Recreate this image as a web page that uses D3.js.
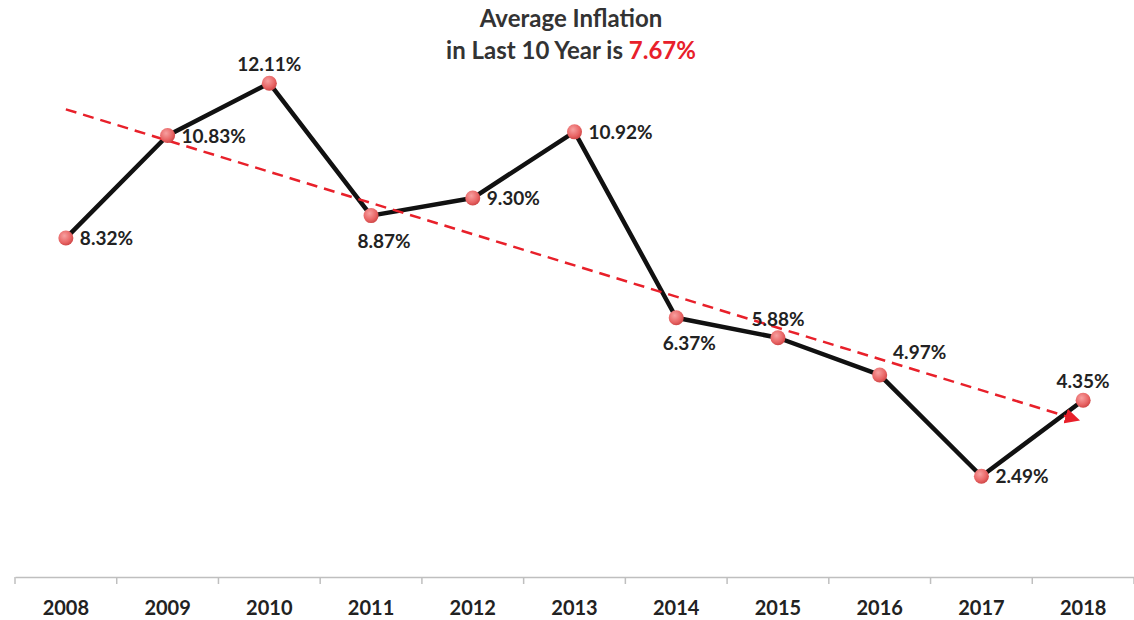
<!DOCTYPE html>
<html><head><meta charset="utf-8">
<script src="https://cdn.jsdelivr.net/npm/d3@7"></script>
<style>body{margin:0;background:#fff}svg{display:block}</style>
</head><body>
<svg id="c" width="1134" height="620"></svg>
<script>
const years = ["2008","2009","2010","2011","2012","2013","2014","2015","2016","2017","2018"];
const inflation = [8.32,10.83,12.11,8.87,9.30,10.92,6.37,5.88,4.97,2.49,4.35];
const labelPlacement = ["right","right","above","below","right","right","below","above","aboveRight","right","above"];
const titleLine1 = "Average Inflation";
const titleLine2 = "in Last 10 Year is ";
const avgText = "7.67%";

const svg = d3.select("#c");
const font = "Lato, 'Open Sans', sans-serif";
const x = d3.scaleBand().domain(years).range([15,1134]).paddingInner(0).paddingOuter(0);
const y = d3.scaleLinear().domain([0,14]).range([578,6]);
const cx = d => x(d) + x.bandwidth()/2;

// defs
const defs = svg.append("defs");
const g = defs.append("radialGradient").attr("id","dot").attr("cx","40%").attr("cy","35%").attr("r","65%");
g.append("stop").attr("offset","0%").attr("stop-color","#f7a0a0");
g.append("stop").attr("offset","70%").attr("stop-color","#e86464");
g.append("stop").attr("offset","100%").attr("stop-color","#d04848");
defs.append("marker").attr("id","arr").attr("viewBox","0 0 10 10").attr("refX",8).attr("refY",5)
  .attr("markerWidth",6).attr("markerHeight",6).attr("orient","auto").attr("markerUnits","strokeWidth")
  .append("path").attr("d","M0,0 L10,5 L0,10 Z").attr("fill","#e8202a");

// axis
const axis = d3.axisBottom(x).tickSize(0).tickPadding(24);
const ax = svg.append("g").attr("transform","translate(0,577)").call(axis);
ax.select(".domain").attr("stroke","#bfbfbf").attr("stroke-width",1.5);
ax.selectAll("text").attr("font-family",font).attr("font-weight","bold").attr("font-size",20).attr("fill","#222");
const bounds = years.map(d=>x(d)).concat([x(years[years.length-1])+x.bandwidth()]);
ax.selectAll(".bt").data(bounds).enter().append("line").attr("class","bt")
  .attr("x1",d=>d).attr("x2",d=>d).attr("y1",0).attr("y2",7).attr("stroke","#bfbfbf").attr("stroke-width",1.5);

// main line
const pts = years.map((d,i)=>({year:d,v:inflation[i],i}));
svg.append("path").datum(pts)
  .attr("d", d3.line().x(d=>cx(d.year)).y(d=>y(d.v)))
  .attr("fill","none").attr("stroke","#111").attr("stroke-width",4.5).attr("stroke-linejoin","round");

// linear trend (least squares)
const n = inflation.length;
const mx = d3.mean(d3.range(n)), my = d3.mean(inflation);
const slope = d3.sum(d3.range(n), i=>(i-mx)*(inflation[i]-my)) / d3.sum(d3.range(n), i=>(i-mx)*(i-mx));
const icpt = my - slope*mx;
svg.append("line")
  .attr("x1",cx(years[0])).attr("y1",y(icpt))
  .attr("x2",cx(years[n-1])-6).attr("y2",y(icpt+slope*(n-1)))
  .attr("stroke","#e8202a").attr("stroke-width",2.5).attr("stroke-dasharray","11,7")
  .attr("marker-end","url(#arr)");

// points
svg.selectAll("circle.p").data(pts).enter().append("circle").attr("class","p")
  .attr("cx",d=>cx(d.year)).attr("cy",d=>y(d.v)).attr("r",7.5).attr("fill","url(#dot)");

// labels
const fmt = v => v.toFixed(2)+"%";
svg.selectAll("text.l").data(pts).enter().append("text").attr("class","l")
  .attr("font-family",font).attr("font-weight","bold").attr("font-size",19).attr("fill","#222")
  .attr("x",d=>{const p=labelPlacement[d.i];const X=cx(d.year);
    if(p==="right")return X+14; if(p==="aboveRight")return X+40; if(p==="below")return X+13; return X;})
  .attr("y",d=>{const p=labelPlacement[d.i];const Y=y(d.v);
    if(p==="right")return Y+7; if(p==="above")return Y-12; if(p==="aboveRight")return Y-16; return Y+32;})
  .attr("text-anchor",d=>labelPlacement[d.i]==="right"?"start":"middle")
  .text(d=>fmt(d.v));

// title
const t = svg.append("text").attr("x",571).attr("text-anchor","middle")
  .attr("font-family",font).attr("font-weight","bold").attr("font-size",24).attr("fill","#333");
t.append("tspan").attr("x",571).attr("y",27).text(titleLine1);
t.append("tspan").attr("x",571).attr("y",59).text(titleLine2);
t.append("tspan").attr("fill","#e8202a").text(avgText);
</script>
</body></html>
